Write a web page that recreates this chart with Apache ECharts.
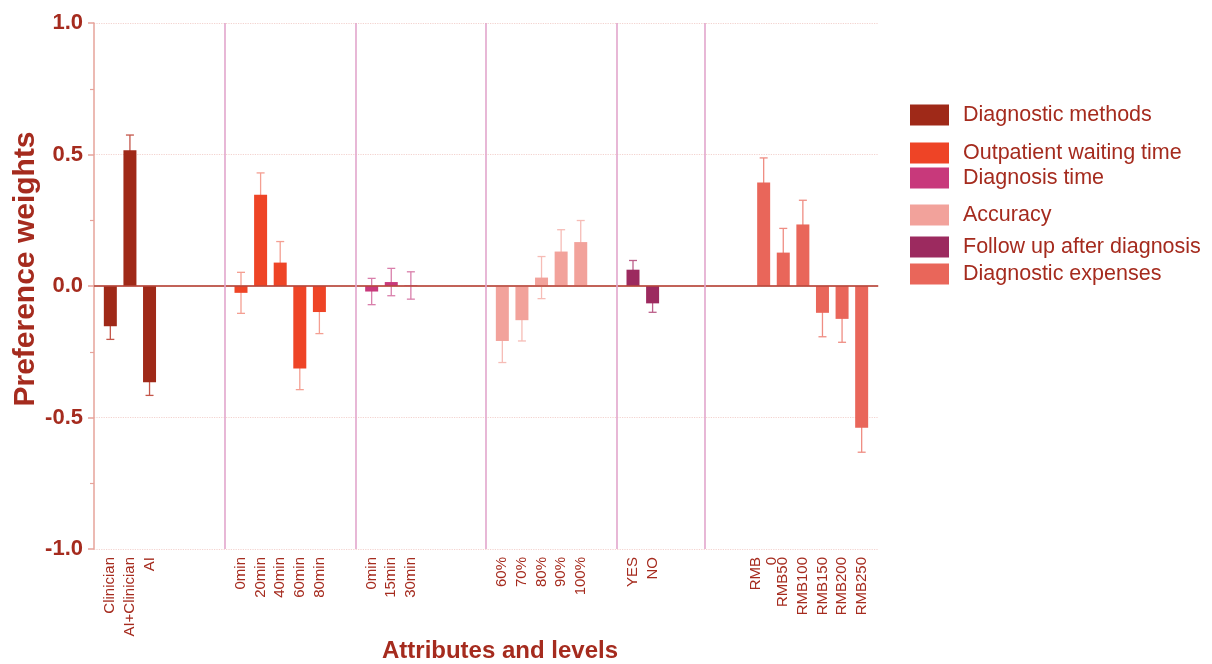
<!DOCTYPE html>
<html>
<head>
<meta charset="utf-8">
<script src="https://cdn.jsdelivr.net/npm/echarts@6/dist/echarts.min.js"></script>
<style>
html,body{margin:0;padding:0;background:#ffffff;}
#chart{width:1212px;height:664px;}
</style>
</head>
<body>
<div id="chart"></div>
<script>
// ---- data ----
const seriesNames = ['Diagnostic methods','Outpatient waiting time','Diagnosis time','Accuracy','Follow up after diagnosis','Diagnostic expenses'];

const levelsMethods = ['Clinician','AI+Clinician','AI'];
const valuesMethods = [-0.153, 0.516, -0.366];
const errorsMethods = [0.050, 0.058, 0.050];

const levelsWaiting = ['0min','20min','40min','60min','80min'];
const valuesWaiting = [-0.026, 0.347, 0.089, -0.314, -0.099];
const errorsWaiting = [0.078, 0.083, 0.080, 0.080, 0.082];

const levelsDiagTime = ['0min','15min','30min'];
const valuesDiagTime = [-0.021, 0.015, 0.002];
const errorsDiagTime = [0.050, 0.052, 0.052];

const levelsAccuracy = ['60%','70%','80%','90%','100%'];
const valuesAccuracy = [-0.209, -0.130, 0.032, 0.131, 0.167];
const errorsAccuracy = [0.082, 0.079, 0.080, 0.083, 0.082];

const levelsFollow = ['YES','NO'];
const valuesFollow = [0.062, -0.066];
const errorsFollow = [0.035, 0.034];

const levelsExpenses = ['RMB\n0','RMB50','RMB100','RMB150','RMB200','RMB250'];
const valuesExpenses = [0.394, 0.127, 0.234, -0.102, -0.125, -0.539];
const errorsExpenses = [0.093, 0.092, 0.092, 0.091, 0.089, 0.093];

const yTicks = [-1.0, -0.5, 0.0, 0.5, 1.0];

// ---- layout / style ----
const groupLevels = [levelsMethods, levelsWaiting, levelsDiagTime, levelsAccuracy, levelsFollow, levelsExpenses];
const groupValues = [valuesMethods, valuesWaiting, valuesDiagTime, valuesAccuracy, valuesFollow, valuesExpenses];
const groupErrors = [errorsMethods, errorsWaiting, errorsDiagTime, errorsAccuracy, errorsFollow, errorsExpenses];
const barColors = ['#9f2918', '#ee4426', '#c8397b', '#f2a29b', '#9c2a5f', '#e9665a'];
const errColors = ['#c4564a', '#f49f92', '#d97fab', '#f6bcb6', '#bc5f8a', '#ef8d83'];
const TEXT = '#a52b1e';
const AXIS = '#e6a39a';
const SEP = '#e2a6cc';

const SLOTS = 120, GROUP_STEP = 20, GROUP_OFFSET = 2, BAR_STEP = 3;
const slotOf = (g, j) => g * GROUP_STEP + GROUP_OFFSET + j * BAR_STEP;
const separatorsAt = [20, 40, 60, 80, 93.5]; // positions along the slot axis

const categories = new Array(SLOTS).fill('');
groupLevels.forEach((lv, g) => lv.forEach((l, j) => { categories[slotOf(g, j)] = l; }));

const series = [];
groupValues.forEach((vals, g) => {
  const arr = new Array(SLOTS).fill(null);
  vals.forEach((v, j) => { arr[slotOf(g, j)] = v; });
  series.push({
    name: seriesNames[g], type: 'bar', data: arr,
    barWidth: 13, barGap: '-100%', z: 3,
    itemStyle: { color: barColors[g] },
    silent: true
  });
});
groupValues.forEach((vals, g) => {
  series.push({
    type: 'custom', z: 2, silent: true,
    data: vals.map((v, j) => [slotOf(g, j), v, groupErrors[g][j]]),
    encode: { x: 0, y: 1 },
    renderItem: function (params, api) {
      const x = api.value(0), v = api.value(1), e = api.value(2);
      const hi = api.coord([x, v + e]);
      const lo = api.coord([x, v - e]);
      const cx = hi[0], w = 4;
      const st = { stroke: errColors[g], lineWidth: 1.3 };
      return { type: 'group', children: [
        { type: 'line', shape: { x1: cx, y1: hi[1], x2: cx, y2: lo[1] }, style: st },
        { type: 'line', shape: { x1: cx - w, y1: hi[1], x2: cx + w, y2: hi[1] }, style: st },
        { type: 'line', shape: { x1: cx - w, y1: lo[1], x2: cx + w, y2: lo[1] }, style: st }
      ]};
    }
  });
});
// zero line and group separators (on a hidden linear axis spanning the slots)
series.push({
  type: 'line', data: [], silent: true, xAxisIndex: 1, z: 1,
  markLine: {
    symbol: 'none', silent: true, label: { show: false }, animation: false,
    data: [{ yAxis: 0, lineStyle: { color: '#b5473b', width: 1.6, type: 'solid' } }]
      .concat(separatorsAt.map((s) => ({ xAxis: s, lineStyle: { color: SEP, width: 1.6, type: 'solid' } })))
  }
});

const legendTops = [99, 137, 162, 199, 231, 258];
const legends = seriesNames.map((n, i) => ({
  data: [n], left: 905, top: legendTops[i], orient: 'vertical',
  itemWidth: 39, itemHeight: 21, icon: 'rect', selectedMode: false,
  textStyle: { fontSize: 21.5, color: TEXT, fontFamily: 'Liberation Sans, Arial, sans-serif', padding: [0, 0, 0, 9] }
}));

const chart = echarts.init(document.getElementById('chart'), null, { renderer: 'canvas' });
chart.setOption({
  animation: false,
  backgroundColor: '#ffffff',
  textStyle: { fontFamily: 'Liberation Sans, Arial, sans-serif' },
  legend: legends,
  grid: { left: 94, right: 334, top: 23, bottom: 115, containLabel: false, outerBoundsMode: 'none' },
  xAxis: [{
    type: 'category', data: categories, boundaryGap: true,
    name: 'Attributes and levels', nameLocation: 'middle', nameGap: 90, nameMoveOverlap: false,
    nameTextStyle: { fontSize: 24, fontWeight: 'bold', color: TEXT, padding: [0, 0, 0, 28] },
    axisLine: { show: true, lineStyle: { color: AXIS, width: 1.5 } },
    axisTick: { show: false },
    axisLabel: { interval: 0, rotate: 90, margin: 8, fontSize: 15, color: TEXT, lineHeight: 16 },
    splitLine: { show: false }
  }, {
    type: 'value', min: 0, max: SLOTS, show: false, position: 'bottom',
    splitLine: { show: false }
  }],
  yAxis: {
    type: 'value', min: yTicks[0], max: yTicks[yTicks.length - 1], interval: 0.5,
    name: 'Preference weights', nameLocation: 'middle', nameGap: 53, nameMoveOverlap: false,
    nameTextStyle: { fontSize: 30, fontWeight: 'bold', color: TEXT, padding: [0, 0, 0, 34] },
    axisLine: { show: true, lineStyle: { color: AXIS, width: 1.5 } },
    axisTick: { show: true, length: 6, lineStyle: { color: AXIS, width: 1.5 } },
    minorTick: { show: true, splitNumber: 2, length: 4, lineStyle: { color: AXIS, width: 1.2 } },
    axisLabel: { fontSize: 22, fontWeight: 'bold', color: TEXT, margin: 11,
      formatter: (v) => v.toFixed(1) },
    splitLine: { show: true, lineStyle: { color: '#f3d3cf', type: 'dotted', width: 1.2 } }
  },
  series: series
});
</script>
</body>
</html>
